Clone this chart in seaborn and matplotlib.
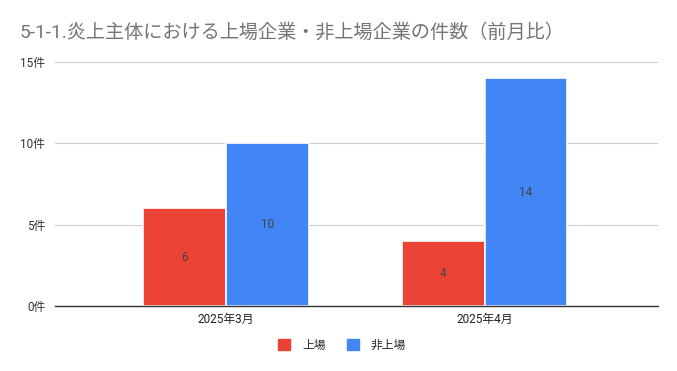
import pandas as pd
import matplotlib.pyplot as plt
import seaborn as sns

# data
months = ['2025年3月', '2025年4月']
listed = [6, 4]
unlisted = [10, 14]
series_names = ['上場', '非上場']
colors = ['#ea4335', '#4285f4']
y_ticks = [0, 5, 10, 15]

df = pd.DataFrame({
    'month': months * 2,
    'type': [series_names[0]] * 2 + [series_names[1]] * 2,
    'count': listed + unlisted,
})

sns.set_theme(style='white')
plt.rcParams['font.family'] = ['Roboto', 'Noto Sans CJK JP', 'DejaVu Sans']

fig = plt.figure(figsize=(6.77, 3.71), dpi=100)
ax = fig.add_axes([55 / 677, 1 - 306 / 371, 603 / 677, 244 / 371])

sns.barplot(data=df, x='month', y='count', hue='type', palette=colors, saturation=1,
            width=0.64, edgecolor='white', linewidth=1.2, ax=ax, legend=False)

for cont in ax.containers:
    ax.bar_label(cont, label_type='center', fontsize=8.5, color='#444444')

ax.set_xlim(-0.66, 1.67)
ax.set_ylim(0, 15)
ax.set_yticks(y_ticks)
ax.set_yticklabels([f'{v}件' for v in y_ticks], fontsize=8.5, color='#333333')
ax.tick_params(axis='x', labelsize=8.5, colors='#222222', length=0, pad=5)
ax.tick_params(axis='y', length=0, pad=7)
ax.set_xlabel('')
ax.set_ylabel('')
ax.grid(axis='y', color='#cccccc', linewidth=0.8)
ax.set_axisbelow(True)
for s in ['top', 'right', 'left']:
    ax.spines[s].set_visible(False)
ax.spines['bottom'].set_color('#333333')
ax.spines['bottom'].set_linewidth(1)

fig.text(20 / 677, 1 - 32 / 371, '5-1-1.炎上主体における上場企業・非上場企業の件数（前月比）',
         fontsize=13.8, color='#757575', va='center', ha='left')

handles = [plt.Rectangle((0, 0), 1, 1, color=c) for c in colors]
fig.legend(handles, series_names, loc='center', bbox_to_anchor=(342 / 677, 1 - 345 / 371),
           ncol=2, frameon=False, fontsize=8.5, handlelength=1, handleheight=1,
           columnspacing=1.8, handletextpad=1)

fig.savefig('out.png', dpi=100)
